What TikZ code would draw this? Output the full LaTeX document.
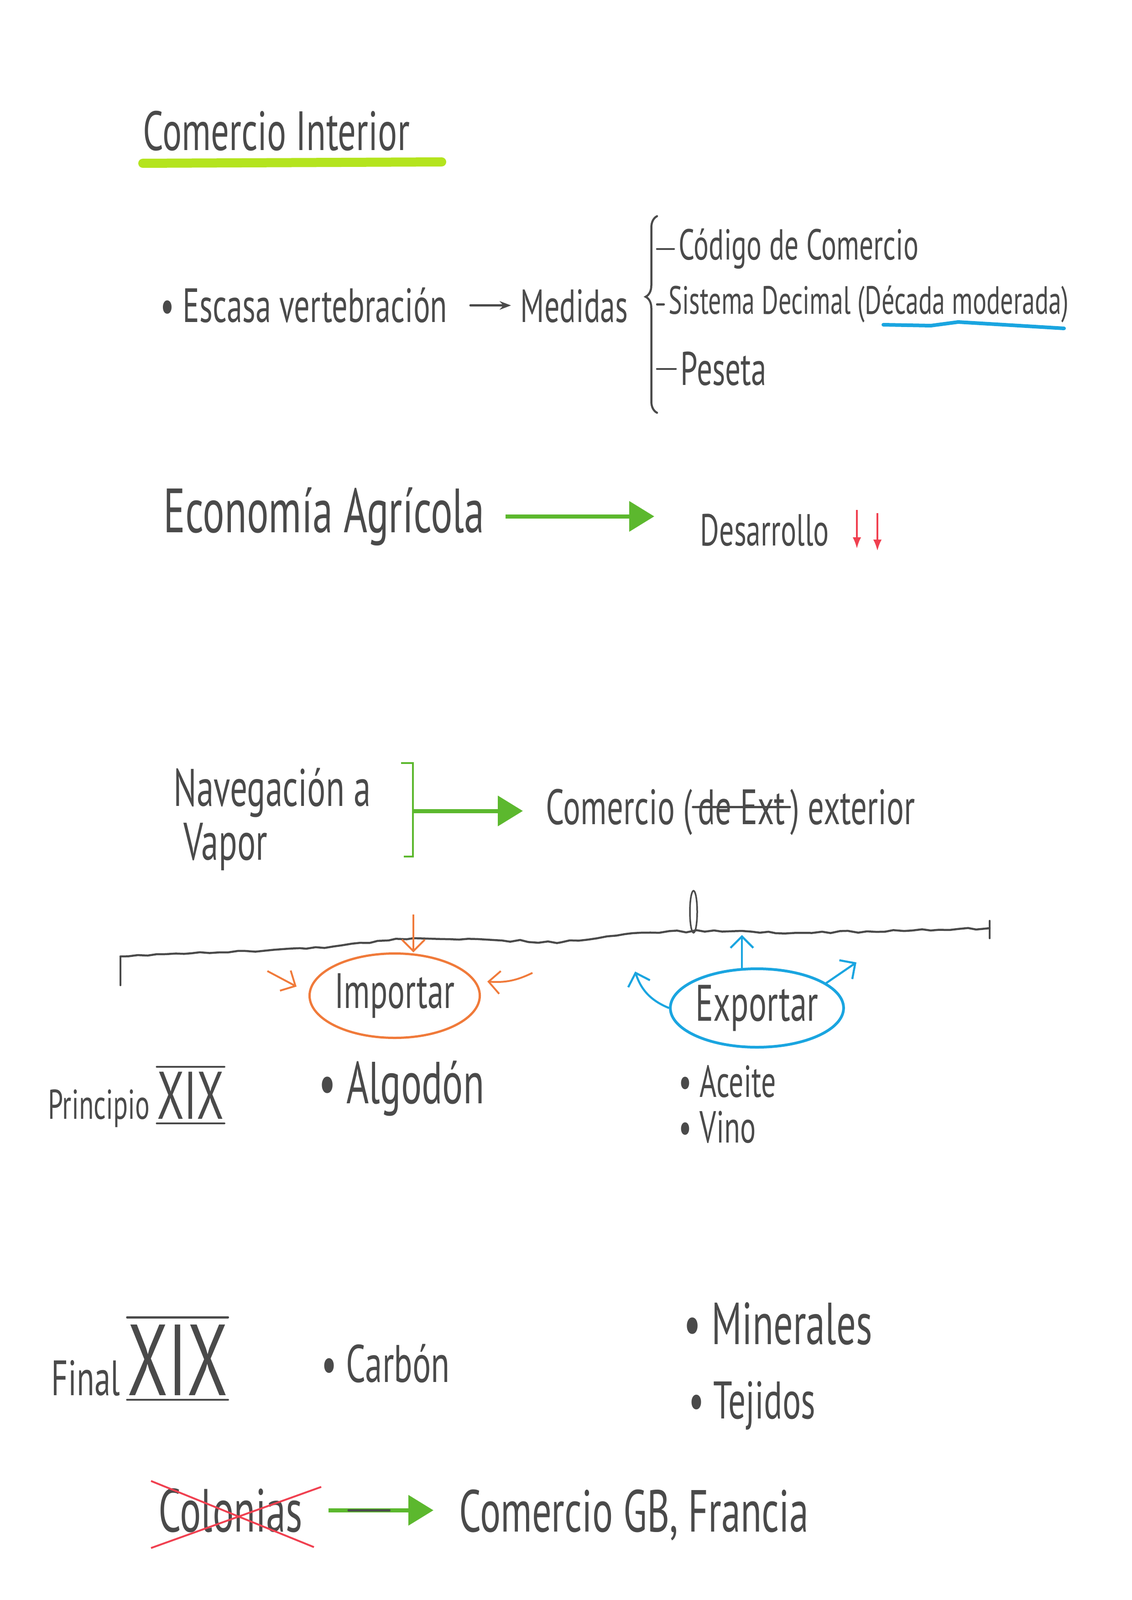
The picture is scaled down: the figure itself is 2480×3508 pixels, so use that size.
\documentclass[tikz,border=0pt]{standalone}
\usepackage{fontspec}
\setmainfont{PT Sans}[FakeStretch=0.65]
\usetikzlibrary{arrows.meta}
\usetikzlibrary{shapes.geometric}
\usetikzlibrary{decorations.pathreplacing,decorations.pathmorphing}

\definecolor{pen}{HTML}{4A4A4A}
\definecolor{lima}{HTML}{B4E41E}
\definecolor{verde}{HTML}{5CB82E}
\definecolor{naranja}{HTML}{F07A3A}
\definecolor{celeste}{HTML}{1AA5E0}
\definecolor{rojo}{HTML}{F04050}

\begin{document}
\begin{tikzpicture}[x=0.1mm, y=-0.1mm,
  every node/.style={inner sep=0pt, anchor=base west, text=pen},
  txt/.style={font=\fontsize{#1}{#1}\selectfont},
  penLine/.style={draw=pen, line width=0.45mm, line cap=round},
  penArr/.style={penLine, -{Stealth[length=2.5mm]}},
  greenArr/.style={draw=verde, line width=0.9mm, -{Triangle[length=5.5mm,width=6.5mm]}},
  impArr/.style={draw=naranja, line width=0.4mm, -{Straight Barb[length=2.5mm]}},
  expArr/.style={draw=celeste, line width=0.45mm, -{Straight Barb[length=2.5mm]}},
  redArr/.style={draw=rojo, line width=0.4mm, -{Latex[length=2.5mm]}},
  impBox/.style={ellipse, draw=naranja, line width=0.5mm, anchor=center,
    minimum width=35.8mm, minimum height=18.5mm, txt=31},
  expBox/.style={ellipse, draw=celeste, line width=0.6mm, anchor=center,
    minimum width=35.4mm, minimum height=17.2mm, txt=32}]
  \fill[white] (0,0) rectangle (2480,3508);
  \useasboundingbox (0,0) rectangle (2480,3508);

  % titulo
  \node[txt=34.5] (titulo) at (313,330) {Comercio Interior};
  \draw[lima, line width=2mm, line cap=round] (313,358) -- (968,355);

  % vertebracion
  \node[txt=30] (escasa) at (351,707) {• Escasa vertebración};
  \node[txt=29] (medidas) at (1140,707) {Medidas};
  \draw[penArr, shorten <=5mm, shorten >=2mm] (escasa.east) -- (escasa.east -| medidas.west);
  \draw[penLine, decorate, decoration={brace, amplitude=2.5mm, aspect=0.59}] (1440,905) -- (1440,474);
  \coordinate (llave) at (1440,0);
  \node[txt=27] (codigo) at (1487,570) {Código de Comercio};
  \node[txt=24.6] (sistema) at (1465,689) {Sistema Decimal (Década moderada)};
  \node[txt=29.5] (peseta) at (1491,845) {Peseta};
  \foreach \n in {codigo,sistema,peseta}
    \draw[penLine] (\n.west -| llave) -- ([xshift=-1mm]\n.west);
  \draw[celeste, line width=0.8mm, line cap=round] (1936,712) -- (2040,714) -- (2100,706) -- (2200,712) -- (2332,720);

  % economia
  \node[txt=39] (agricola) at (358,1167) {Economía Agrícola};
  \node[txt=28] (desarrollo) at (1534,1196) {Desarrollo};
  \draw[greenArr, shorten <=4.5mm, shorten >=10mm] (agricola.east) -- (agricola.east -| desarrollo.west);
  \draw[redArr] (1878,1118) -- (1878,1203);
  \draw[redArr] (1923,1125) -- (1923,1208);

  % navegacion
  \node[txt=33] (nav) at (380,1767) {Navegación a};
  \node[txt=33] (vapor) at (402,1885) {Vapor};
  \draw[draw=verde, line width=0.45mm] (879,1673) -- (905,1673) -- (905,1878) -- (885,1878);
  \coordinate (corchete) at (905,1778);
  \node[txt=31] (exterior) at (1196,1807) {Comercio (};
  \node[txt=31] (deext) at ([xshift=1mm]exterior.base east) {de Ext};
  \node[txt=31] (exterior2) at ([xshift=1mm]deext.base east) {) exterior};
  \draw[penLine] ([xshift=-1mm]deext.west) -- ([xshift=1mm]deext.east);
  \draw[greenArr, shorten >=5mm] (corchete) -- (corchete -| exterior.west);

  % linea de tiempo
  \draw[penLine] (264,2160) -- (264,2097);
  \draw[penLine, decorate, decoration={random steps, segment length=2mm, amplitude=0.25mm}]
    (264,2097) -- (420,2090) -- (671,2080) -- (906,2057) -- (1100,2062) -- (1230,2066)
    -- (1386,2046) -- (1565,2040) -- (1700,2046) -- (1900,2042) -- (2169,2035);
  \draw[penLine] (2169,2019) -- (2169,2057);
  \draw[penLine, line width=0.35mm] (1520,1999) ellipse (0.8mm and 4.6mm);

  % importar / exportar
  \node[impBox] (importar) at (865,2183) {Importar};
  \coordinate (arriba) at (906,2005);
  \draw[impArr] (arriba) -- (importar.north -| arriba);
  \draw[impArr] (586,2129) -- (650,2163);
  \draw[impArr] (1167,2133) to[bend left=15] (1068,2152);
  \node[expBox] (exportar) at (1659,2210) {Exportar};
  \draw[expArr] (1626,2124) -- (1626,2050);
  \draw[expArr] (exportar.west) to[bend left=25] (1392,2130);
  \draw[expArr] (1807,2158) -- (1877,2110);

  % principio XIX
  \node[txt=26] (principio) at (105,2453) {Principio};
  \node[txt=42] (siglo1) at ([xshift=1.5mm]principio.base east) {XIX};
  \draw[penLine] ([yshift=1mm]siglo1.north west) -- ([yshift=1mm]siglo1.north east);
  \draw[penLine] ([yshift=-1mm]siglo1.base west) -- ([yshift=-1mm]siglo1.base east);
  \node[txt=37] (algodon) at (698,2419) {• Algodón};
  \node[txt=28] (aceite) at (1487,2405) {• Aceite};
  \node[txt=28] (vino) at (1487,2505) {• Vino};

  % final XIX
  \node[txt=31] (final) at (112,3059) {Final};
  \node[txt=63] (siglo2) at ([xshift=1.5mm]final.base east) {XIX};
  \draw[penLine] ([yshift=1.5mm]siglo2.north west) -- ([yshift=1.5mm]siglo2.north east);
  \draw[penLine] ([yshift=-1mm]siglo2.base west) -- ([yshift=-1mm]siglo2.base east);
  \node[txt=33] (carbon) at (704,3030) {• Carbón};
  \node[txt=37] (minerales) at (1498,2947) {• Minerales};
  \node[txt=33] (tejidos) at (1509,3110) {• Tejidos};

  % colonias
  \node[txt=38] (colonias) at (347,3358) {Colonias};
  \draw[rojo, line width=0.4mm] (331,3247) -- (688,3392);
  \draw[rojo, line width=0.4mm] (331,3394) -- (704,3260);
  \node[txt=37] (comgb) at (1006,3358) {Comercio GB, Francia};
  \draw[greenArr, shorten <=5.6mm, shorten >=5.6mm] (colonias.east) -- (colonias.east -| comgb.west);
  \draw[penLine] ([xshift=10mm]colonias.east) -- ([xshift=19mm]colonias.east);
\end{tikzpicture}
\end{document}
